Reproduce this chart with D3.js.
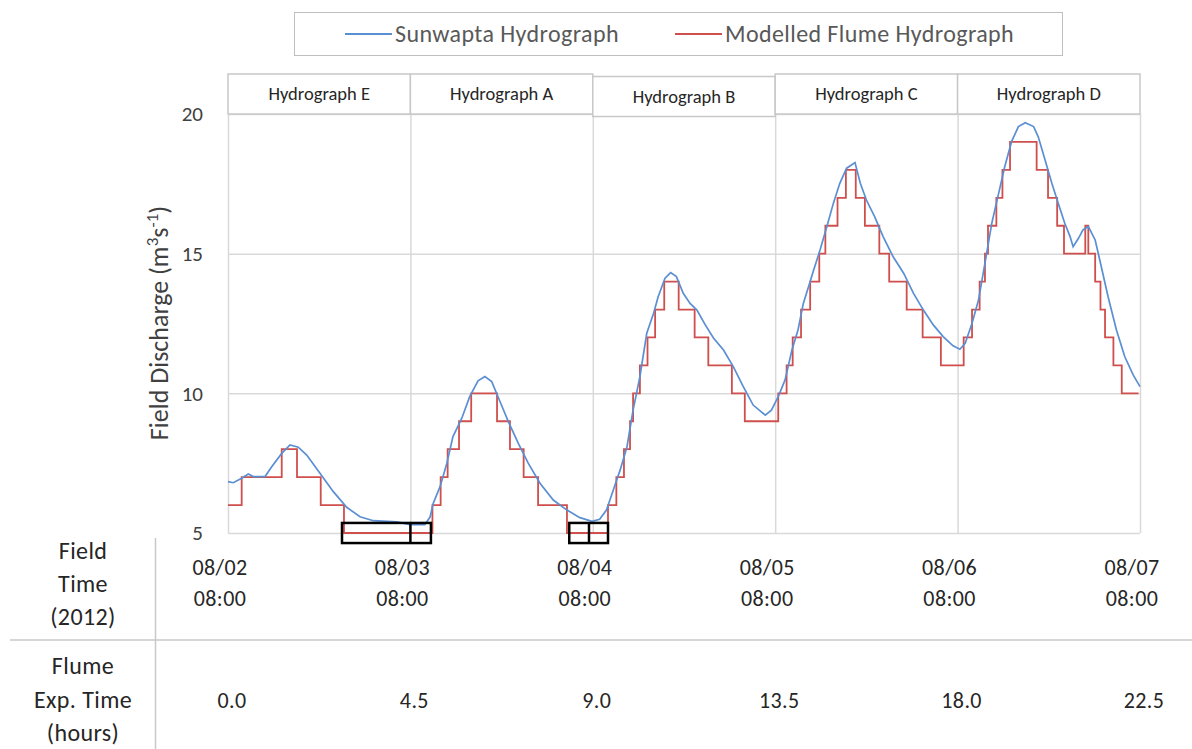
<!DOCTYPE html>
<meta charset="utf-8">

<head>
    <style>
        body { margin: 0; background: #fff; }
        text { font-family: Carlito, Calibri, Lato, sans-serif; }
    </style>
    <script src="https://d3js.org/d3.v7.min.js"></script>
</head>

<body>
    <div id="my_dataviz"></div>

    <script>
        // field hydrograph (hours after 08/02 08:00) and discharge
        var sunwaptaHours = [0, 0.7, 1.8, 2.67, 3.33, 4.87, 5.75, 7.07, 8.16, 9.25,
            10.36, 12.1, 13.86, 15.62, 17.37, 19.12, 22.2, 23.95, 25.9, 26.6,
            27.0, 27.9, 28.8, 29.6, 30.75, 31.8, 32.9, 33.8, 34.7, 35.8,
            36.9, 38.2, 39.5, 41.05, 42.8, 44.6, 46.3, 47.9, 48.9, 49.8,
            50.7, 51.6, 52.5, 53.3, 54.2, 55.1, 56.0, 56.6, 57.5, 58.25,
            59.0, 59.9, 60.8, 61.7, 62.8, 63.9, 65.2, 66.5, 67.8, 69.1,
            70.7, 71.5, 72.4, 73.3, 74.2, 75.0, 75.7, 76.6, 77.0, 77.9,
            78.8, 79.65, 80.5, 81.4, 82.5, 83.2, 84.0, 85.1, 86.2, 87.5,
            88.9, 90.2, 91.5, 92.8, 94.1, 95.4, 96.3, 97.0, 97.9, 98.75,
            99.6, 100.5, 101.4, 102.2, 103.1, 104.0, 104.9, 106.0, 106.6, 107.5,
            108.4, 109.25, 110.1, 110.8, 111.2, 111.9, 112.5, 113.2, 114.1, 114.7,
            115.8, 116.9, 118.0, 119.1, 120];
        var sunwaptaQ = [6.84, 6.8, 6.96, 7.11, 7.02, 7.02, 7.37, 7.85, 8.15, 8.07,
            7.79, 7.14, 6.48, 5.92, 5.58, 5.44, 5.4, 5.3, 5.3, 5.58,
            6.06, 6.66, 7.5, 8.45, 9.1, 9.88, 10.45, 10.6, 10.42, 9.7,
            8.98, 8.21, 7.5, 6.78, 6.18, 5.82, 5.55, 5.42, 5.49, 5.82,
            6.54, 7.26, 8.09, 9.4, 10.6, 12.15, 12.87, 13.46, 14.12, 14.32,
            14.18, 13.58, 13.22, 12.98, 12.45, 11.97, 11.55, 10.95, 10.24, 9.58,
            9.22, 9.4, 9.88, 10.48, 11.55, 12.27, 13.22, 14.0, 14.36, 15.13,
            15.97, 16.8, 17.52, 18.06, 18.26, 17.52, 16.92, 16.32, 15.61, 14.9,
            14.3, 13.58, 12.98, 12.45, 12.03, 11.7, 11.58, 11.79, 12.51, 13.34,
            14.66, 16.09, 17.16, 18.11, 19.01, 19.55, 19.69, 19.55, 19.19, 18.36,
            17.52, 16.8, 16.09, 15.61, 15.25, 15.55, 15.85, 15.97, 15.49, 14.78,
            13.46, 12.27, 11.31, 10.66, 10.24];

        // modelled flume steps (start hour of each step, discharge held after it)
        var flumeStepHours = [0, 1.8, 7.07, 9.08, 12.2, 15.26,
            26.9, 27.98, 28.9, 30.4, 32.0, 35.4, 37.1, 38.9, 40.8, 44.6,
            50.0, 51.1, 52.1, 52.9, 53.3, 54.2, 55.2, 56.2, 57.4, 59.3, 61.4, 63.2, 66.3, 68.0,
            72.4, 73.5, 74.3, 75.4, 76.6, 77.8, 78.6, 80.2, 81.3, 82.6, 83.8, 85.7, 87.0, 89.3, 91.4, 93.8,
            96.8, 97.9, 98.9, 99.6, 100.0, 101.1, 101.9, 102.9, 106.4, 107.9, 109.1, 110.0,
            112.8, 113.2, 114.1, 114.8, 115.4, 116.5, 117.6, 119.8];
        var flumeStepQ = [6, 7, 8, 7, 6, 5,
            6, 7, 8, 9, 10, 9, 8, 7, 6, 5,
            6, 7, 8, 9, 10, 11, 12, 13, 14, 13, 12, 11, 10, 9,
            10, 11, 12, 13, 14, 15, 16, 17, 18, 17, 16, 15, 14, 13, 12, 11,
            12, 13, 14, 15, 16, 17, 18, 19, 18, 17, 16, 15,
            16, 15, 14, 13, 12, 11, 10, 10];

        // compressed low-flow periods: start, divider, end (hours)
        var truncStart = [15.0, 44.9];
        var truncMid = [24.0, 47.5];
        var truncEnd = [26.7, 50.0];

        var hydroLabels = ["Hydrograph E", "Hydrograph A", "Hydrograph B", "Hydrograph C", "Hydrograph D"];
        var yTicks = [5, 10, 15, 20];
        var flumeTicks = [0, 4.5, 9, 13.5, 18, 22.5];
        var fieldRowLabels = ["Field", "Time", "(2012)"];
        var flumeRowLabels = ["Flume", "Exp. Time", "(hours)"];
        var seriesNames = ["Sunwapta Hydrograph", "Modelled Flume Hydrograph"];
        var seriesColors = ["#5b8fd3", "#cf4f4c"];

        var width = 1192, height = 749;
        var plotLeft = 228, plotRight = 1140, plotTop = 114, plotBottom = 533;

        var svg = d3.select("#my_dataviz")
            .append("svg")
            .attr("width", width)
            .attr("height", height);

        var fieldStart = new Date(2012, 7, 2, 8);
        function atHour(h) { return new Date(fieldStart.getTime() + h * 36e5); }
        var dayTicks = d3.range(6).map(function (d) { return atHour(d * 24); });

        var x = d3.scaleTime().domain([fieldStart, atHour(120)]).range([plotLeft, plotRight]);
        var xFlume = d3.scaleLinear().domain([0, 22.5]).range([plotLeft, plotRight]);
        var y = d3.scaleLinear().domain([5, 20]).range([plotBottom, plotTop]);

        // legend
        var legend = svg.append("g");
        legend.append("rect")
            .attr("x", 294.5).attr("y", 12.5).attr("width", 768).attr("height", 43)
            .attr("fill", "none").attr("stroke", "#bfbfbf");
        var legendX = [345, 675];
        seriesNames.forEach(function (name, i) {
            legend.append("line")
                .attr("x1", legendX[i]).attr("x2", legendX[i] + 47)
                .attr("y1", 34).attr("y2", 34)
                .attr("stroke", seriesColors[i]).attr("stroke-width", 2);
            legend.append("text")
                .attr("x", legendX[i] + 50).attr("y", 42)
                .attr("font-size", 24).attr("letter-spacing", 0.4).attr("fill", "#595959")
                .text(name);
        });

        // gridlines
        svg.append("g")
            .attr("transform", "translate(" + plotLeft + ",0)")
            .call(d3.axisLeft(y).tickValues(yTicks).tickSize(-(plotRight - plotLeft)).tickFormat(""))
            .call(function (g) { g.select(".domain").remove(); })
            .selectAll("line").attr("stroke", "#d9d9d9").attr("stroke-width", 1.5);

        svg.append("g")
            .attr("transform", "translate(0," + plotBottom + ")")
            .call(d3.axisBottom(x).tickValues(dayTicks).tickSize(-(plotBottom - plotTop)).tickFormat(""))
            .call(function (g) { g.select(".domain").remove(); })
            .selectAll("line").attr("stroke", "#d9d9d9").attr("stroke-width", 1.5);

        // hydrograph header boxes (box B sits slightly lower in the original)
        var header = svg.append("g").selectAll("g")
            .data(hydroLabels)
            .enter()
            .append("g")
            .attr("transform", function (d, i) { return "translate(0," + (i === 2 ? 2.5 : 0) + ")"; });
        header.append("rect")
            .attr("x", function (d, i) { return x(dayTicks[i]); })
            .attr("y", 74)
            .attr("width", function (d, i) { return x(dayTicks[i + 1]) - x(dayTicks[i]); })
            .attr("height", plotTop - 74)
            .attr("fill", "#fff").attr("stroke", "#c8c8c8").attr("stroke-width", 1.5);
        header.append("text")
            .attr("x", function (d, i) { return (x(dayTicks[i]) + x(dayTicks[i + 1])) / 2; })
            .attr("y", 100)
            .attr("text-anchor", "middle")
            .attr("font-size", 18.5).attr("fill", "#262626")
            .text(function (d) { return d; });

        // series
        var sunwapta = sunwaptaHours.map(function (h, i) { return [atHour(h), sunwaptaQ[i]]; });
        var flume = flumeStepHours.map(function (h, i) { return [atHour(h), flumeStepQ[i]]; });

        svg.append("path")
            .datum(flume)
            .attr("fill", "none")
            .attr("stroke", seriesColors[1])
            .attr("stroke-width", 1.8)
            .attr("d", d3.line().x(function (d) { return x(d[0]); }).y(function (d) { return y(d[1]); })
                .curve(d3.curveStepAfter));

        svg.append("path")
            .datum(sunwapta)
            .attr("fill", "none")
            .attr("stroke", seriesColors[0])
            .attr("stroke-width", 1.7)
            .attr("d", d3.line().x(function (d) { return x(d[0]); }).y(function (d) { return y(d[1]); }));

        // black boxes over the compressed periods
        truncStart.forEach(function (s, i) {
            svg.append("rect")
                .attr("x", x(atHour(s))).attr("y", y(5.36))
                .attr("width", x(atHour(truncEnd[i])) - x(atHour(s)))
                .attr("height", y(4.64) - y(5.36))
                .attr("fill", "none").attr("stroke", "#000").attr("stroke-width", 2.5);
            svg.append("line")
                .attr("x1", x(atHour(truncMid[i]))).attr("x2", x(atHour(truncMid[i])))
                .attr("y1", y(5.36)).attr("y2", y(4.64))
                .attr("stroke", "#000").attr("stroke-width", 2.5);
        });

        // y axis labels
        svg.append("g")
            .attr("transform", "translate(" + plotLeft + ",0)")
            .call(d3.axisLeft(y).tickValues(yTicks).tickSize(0).tickPadding(25))
            .call(function (g) { g.select(".domain").remove(); })
            .selectAll("text")
            .attr("font-size", 21).attr("fill", "#404040")
            .style("font-family", "Carlito, Calibri, Lato, sans-serif");

        var yTitle = svg.append("text")
            .attr("transform", "translate(168,323) rotate(-90)")
            .attr("text-anchor", "middle")
            .attr("font-size", 26).attr("fill", "#404040");
        yTitle.append("tspan").text("Field Discharge (m");
        yTitle.append("tspan").attr("font-size", 17).attr("dy", -10).text("3");
        yTitle.append("tspan").attr("dy", 10).text("s");
        yTitle.append("tspan").attr("font-size", 17).attr("dy", -10).text("-1");
        yTitle.append("tspan").attr("dy", 10).text(")");

        // bottom table
        svg.append("line")
            .attr("x1", 155.5).attr("x2", 155.5).attr("y1", 538).attr("y2", height)
            .attr("stroke", "#c8c8c8").attr("stroke-width", 1.5);
        svg.append("line")
            .attr("x1", 10).attr("x2", width).attr("y1", 640).attr("y2", 640)
            .attr("stroke", "#c8c8c8").attr("stroke-width", 1.5);

        svg.selectAll(".fieldRow")
            .data(fieldRowLabels)
            .enter().append("text")
            .attr("x", 83).attr("y", function (d, i) { return 559 + i * 33; })
            .attr("text-anchor", "middle").attr("font-size", 24).attr("letter-spacing", 0.4)
            .attr("fill", "#262626")
            .text(function (d) { return d; });
        svg.selectAll(".flumeRow")
            .data(flumeRowLabels)
            .enter().append("text")
            .attr("x", 83).attr("y", function (d, i) { return 674 + i * 33.5; })
            .attr("text-anchor", "middle").attr("font-size", 24).attr("letter-spacing", 0.4)
            .attr("fill", "#262626")
            .text(function (d) { return d; });

        var fmtDay = d3.timeFormat("%m/%d"), fmtTime = d3.timeFormat("%H:%M");
        var fieldLabel = svg.append("g").selectAll("text")
            .data(dayTicks)
            .enter().append("text")
            .attr("text-anchor", "middle").attr("font-size", 22).attr("letter-spacing", 0.4)
            .attr("fill", "#262626");
        fieldLabel.append("tspan")
            .attr("x", function (d) { return x(d) - 8; }).attr("y", 575)
            .text(fmtDay);
        fieldLabel.append("tspan")
            .attr("x", function (d) { return x(d) - 8; }).attr("y", 606)
            .text(fmtTime);

        svg.append("g").selectAll("text")
            .data(flumeTicks)
            .enter().append("text")
            .attr("x", function (d) { return xFlume(d) + 4; }).attr("y", 708)
            .attr("text-anchor", "middle").attr("font-size", 22).attr("letter-spacing", 0.4)
            .attr("fill", "#262626")
            .text(d3.format(".1f"));
    </script>
</body>
